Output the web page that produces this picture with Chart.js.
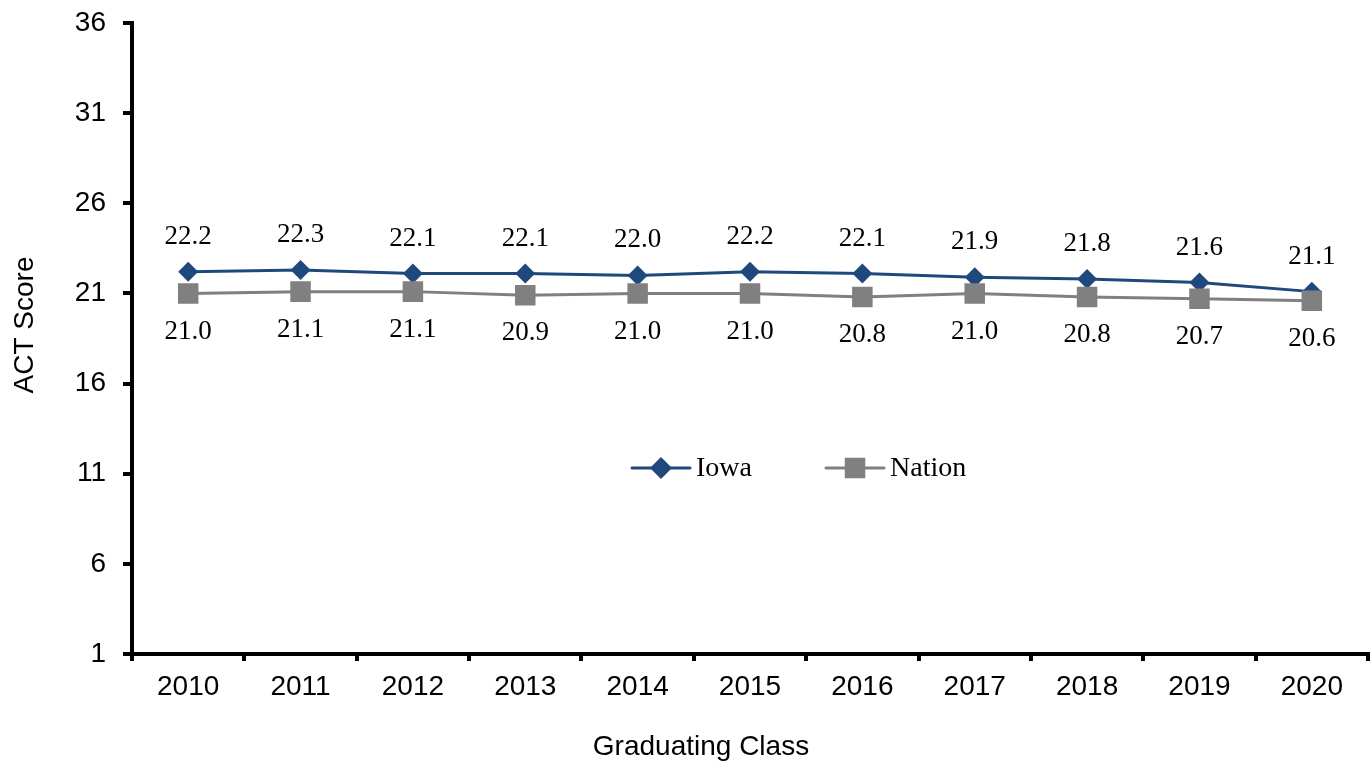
<!DOCTYPE html>
<html>
<head>
<meta charset="utf-8">
<script src="https://cdn.jsdelivr.net/npm/chart.js@4/dist/chart.umd.min.js"></script>
<style>
  html, body { margin: 0; padding: 0; background: #fff; overflow: hidden; }
  #wrap { width: 1370px; height: 764px; }
  canvas { display: block; }
</style>
</head>
<body>
<div id="wrap"><canvas id="actChart" width="1370" height="764"></canvas></div>
<script>
// Data
const years = ['2010', '2011', '2012', '2013', '2014', '2015', '2016', '2017', '2018', '2019', '2020'];
const iowaScores = [22.2, 22.3, 22.1, 22.1, 22.0, 22.2, 22.1, 21.9, 21.8, 21.6, 21.1];
const nationScores = [21.0, 21.1, 21.1, 20.9, 21.0, 21.0, 20.8, 21.0, 20.8, 20.7, 20.6];
const yTicks = [1, 6, 11, 16, 21, 26, 31, 36];

const IOWA_BLUE = '#1F497D';
const NATION_GRAY = '#808080';
const sansFont = '"Liberation Sans", Arial, sans-serif';
const serifFont = '"Liberation Serif", "Times New Roman", serif';

// value labels above (Iowa) and below (Nation) the points
const valueLabels = {
  id: 'valueLabels',
  afterDatasetsDraw(chart) {
    const ctx = chart.ctx;
    ctx.save();
    ctx.font = '27px ' + serifFont;
    ctx.fillStyle = '#000';
    ctx.textAlign = 'center';
    ctx.textBaseline = 'middle';
    chart.data.datasets.forEach((ds, i) => {
      const meta = chart.getDatasetMeta(i);
      const shift = ds.label === 'Iowa' ? -35 : 38;
      meta.data.forEach((pt, j) => {
        ctx.fillText(ds.data[j].toFixed(1), pt.x, pt.y + shift);
      });
    });
    ctx.restore();
  }
};

// legend sitting inside the plot, plus the axis titles
const extras = {
  id: 'extras',
  afterDraw(chart) {
    const ctx = chart.ctx;
    ctx.save();

    const items = [
      { label: 'Iowa', color: IOWA_BLUE, style: 'rectRot', radius: 11, x: 632 },
      { label: 'Nation', color: NATION_GRAY, style: 'rect', radius: 14.5, x: 826 }
    ];
    const ly = 468;
    items.forEach(it => {
      ctx.strokeStyle = it.color;
      ctx.lineWidth = 3;
      ctx.lineCap = 'round';
      ctx.beginPath();
      ctx.moveTo(it.x, ly);
      ctx.lineTo(it.x + 58, ly);
      ctx.stroke();
      ctx.fillStyle = it.color;
      Chart.helpers.drawPoint(ctx, { pointStyle: it.style, radius: it.radius, borderWidth: 0 }, it.x + 29, ly);
      ctx.fillStyle = '#000';
      ctx.font = '28px ' + serifFont;
      ctx.textAlign = 'left';
      ctx.textBaseline = 'middle';
      ctx.fillText(it.label, it.x + 64, ly + 1);
    });

    ctx.fillStyle = '#000';
    ctx.font = '28px ' + sansFont;
    ctx.textAlign = 'center';
    ctx.textBaseline = 'middle';
    ctx.fillText('Graduating Class', 701, 747);

    ctx.translate(25, 325);
    ctx.rotate(-Math.PI / 2);
    ctx.fillText('ACT Score', 0, 0);
    ctx.restore();
  }
};

const ctx = document.getElementById('actChart').getContext('2d');
const actChart = new Chart(ctx, {
  type: 'line',
  data: {
    labels: years,
    datasets: [
      {
        label: 'Iowa',
        data: iowaScores,
        borderColor: IOWA_BLUE,
        backgroundColor: IOWA_BLUE,
        borderWidth: 3,
        pointStyle: 'rectRot',
        pointRadius: 10,
        pointBorderWidth: 0,
        order: 2
      },
      {
        label: 'Nation',
        data: nationScores,
        borderColor: NATION_GRAY,
        backgroundColor: NATION_GRAY,
        borderWidth: 3,
        pointStyle: 'rect',
        pointRadius: 14.5,
        pointBorderWidth: 0,
        order: 1
      }
    ]
  },
  options: {
    responsive: false,
    animation: false,
    layout: { autoPadding: false, padding: { top: 23, right: 2, left: 0, bottom: 0 } },
    plugins: {
      legend: { display: false },
      tooltip: { enabled: false }
    },
    scales: {
      x: {
        offset: true,
        grid: {
          offset: true,
          drawOnChartArea: false,
          drawTicks: true,
          tickLength: 7,
          color: '#000',
          lineWidth: 4
        },
        border: { display: true, color: '#000', width: 4 },
        ticks: {
          color: '#000',
          padding: 9,
          font: { family: sansFont, size: 28 }
        },
        afterFit(scale) {
          scale.height = 110;
          scale.paddingLeft = 0;
          scale.paddingRight = 0;
        }
      },
      y: {
        min: yTicks[0],
        max: yTicks[yTicks.length - 1],
        afterBuildTicks(scale) {
          scale.ticks = yTicks.map(v => ({ value: v }));
        },
        grid: {
          drawOnChartArea: false,
          drawTicks: true,
          tickLength: 9,
          color: '#000',
          lineWidth: 4
        },
        border: { display: true, color: '#000', width: 4 },
        ticks: {
          color: '#000',
          padding: 17,
          font: { family: sansFont, size: 28 }
        },
        afterFit(scale) {
          scale.width = 132;
          scale.paddingTop = 0;
          scale.paddingBottom = 0;
        }
      }
    }
  },
  plugins: [valueLabels, extras]
});
</script>
</body>
</html>
